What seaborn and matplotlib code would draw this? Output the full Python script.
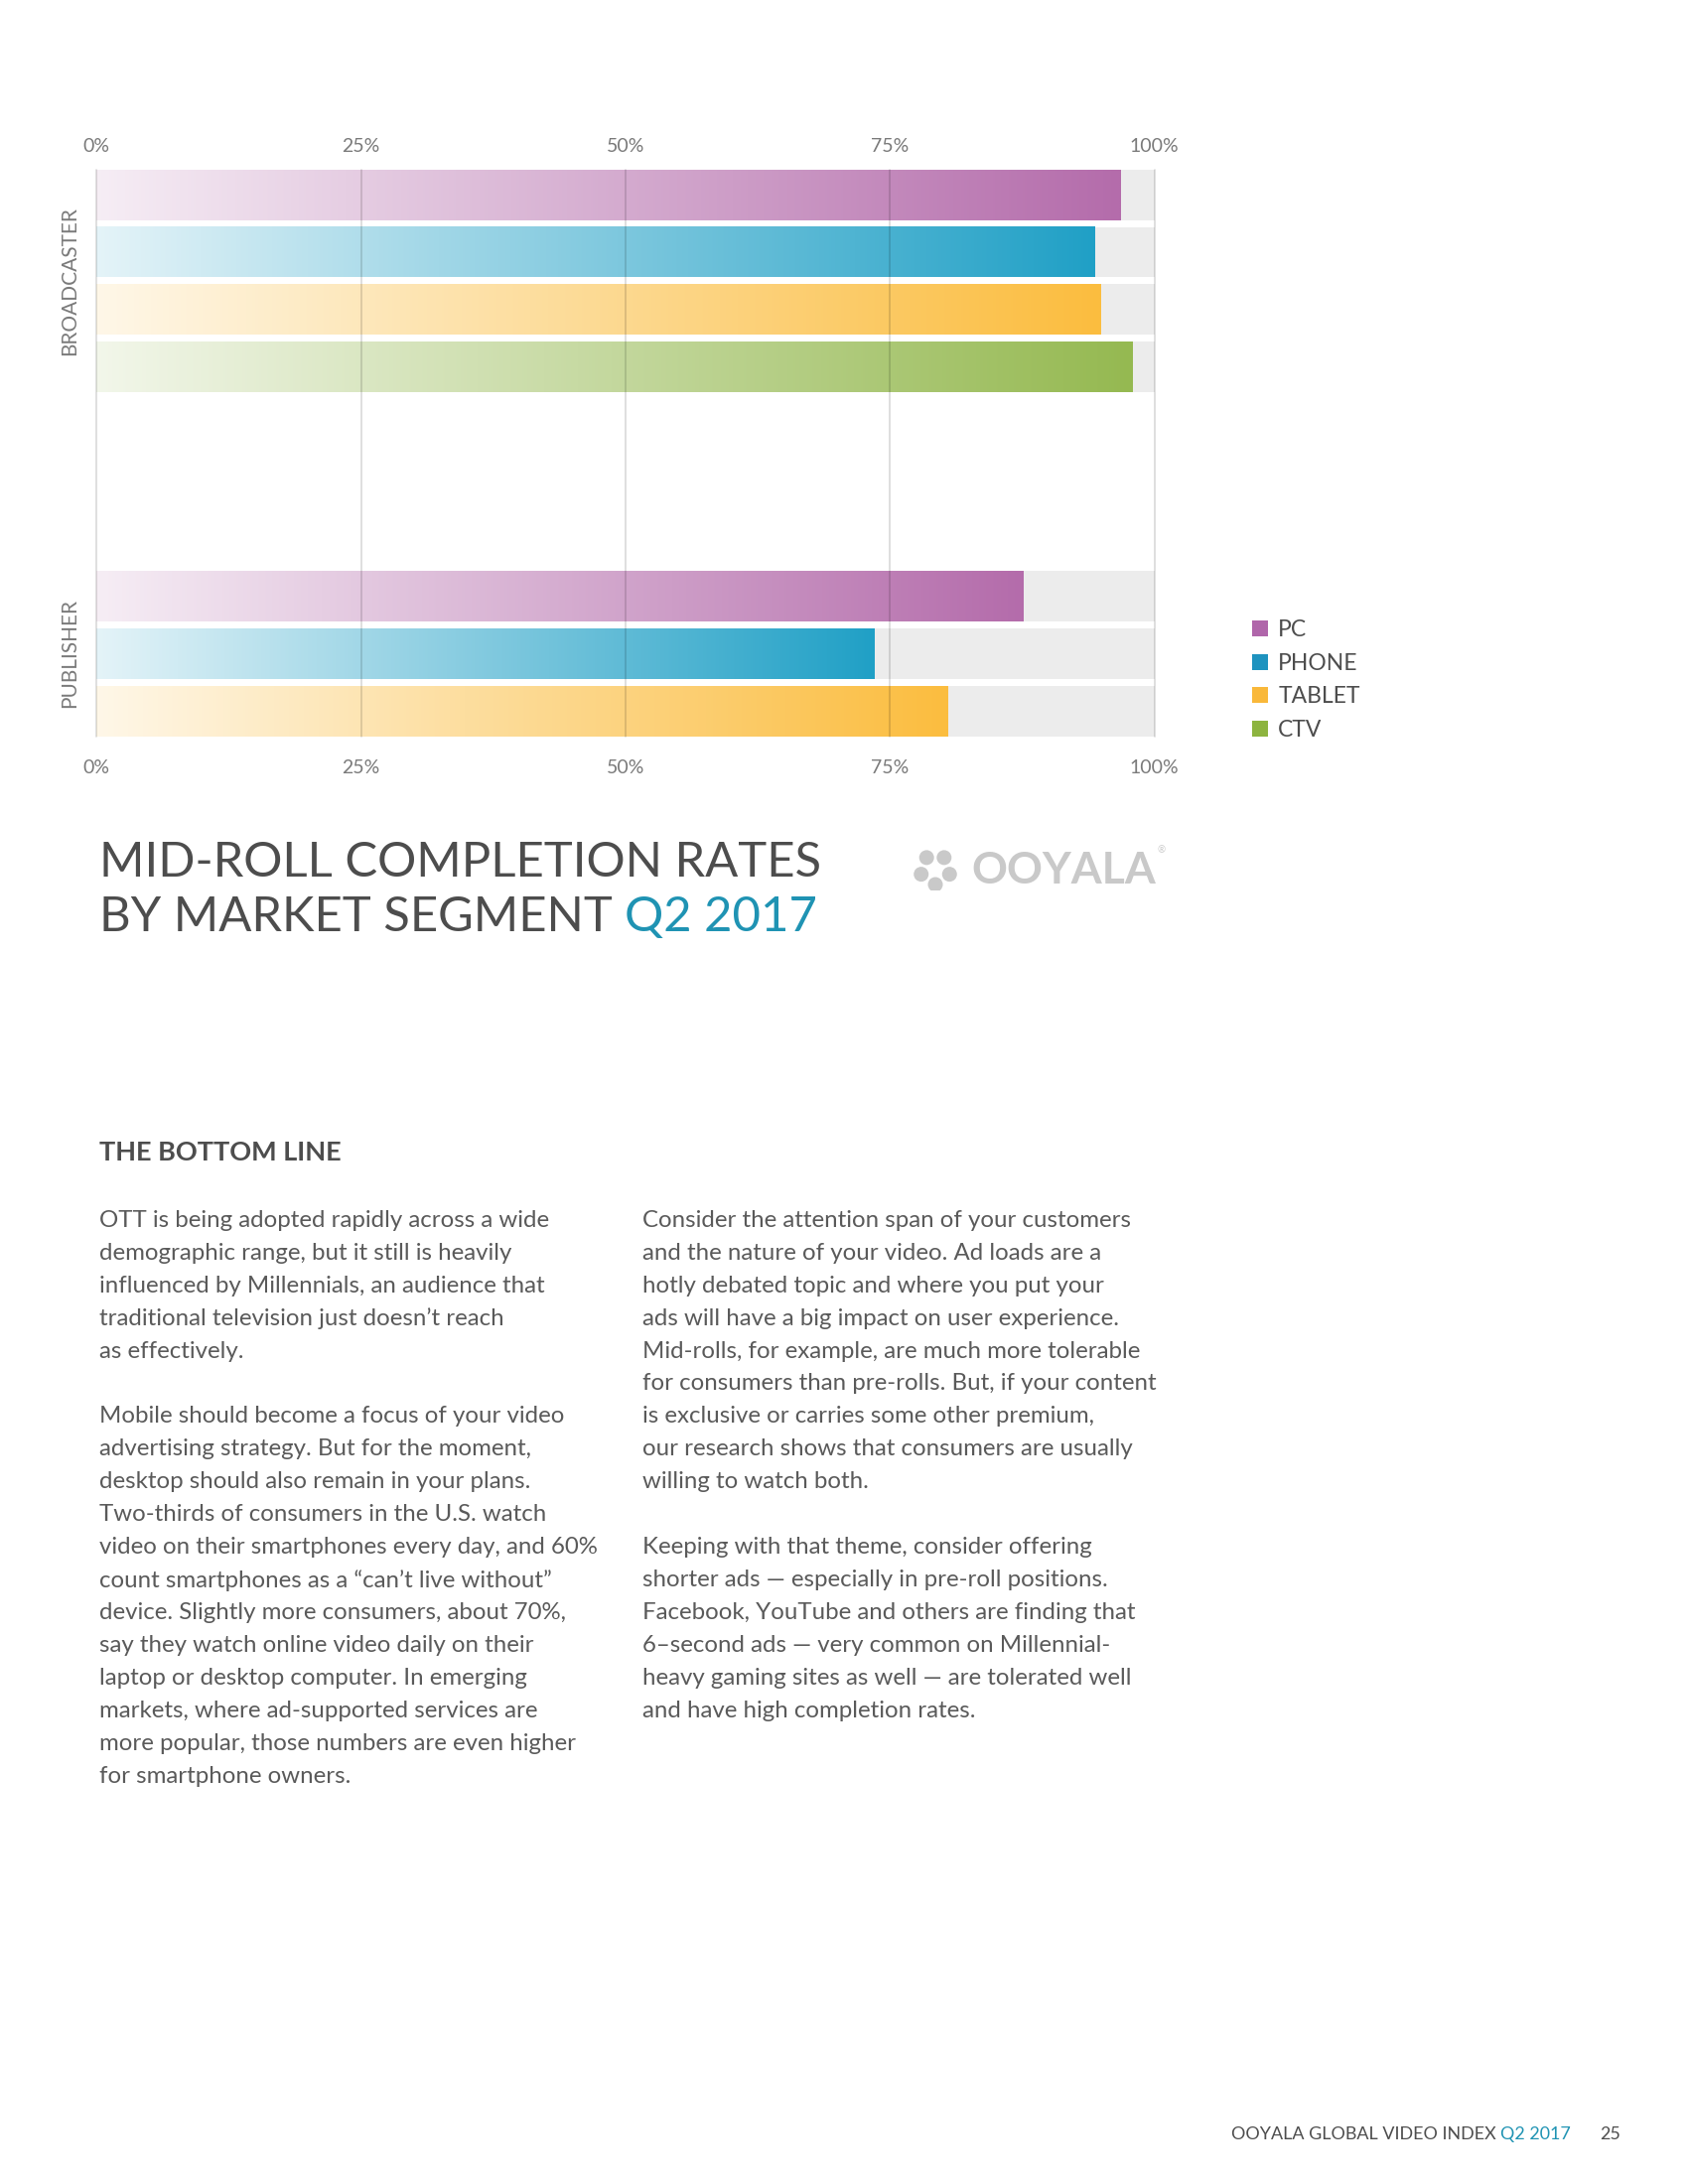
import numpy as np
import pandas as pd
import matplotlib
matplotlib.use("Agg")
import matplotlib.pyplot as plt
import seaborn as sns
from matplotlib.colors import to_rgb
from matplotlib.patches import Patch, Circle
from matplotlib import transforms

# ---------------- data ----------------
segments = ["BROADCASTER", "PUBLISHER"]
devices = ["PC", "PHONE", "TABLET", "CTV"]
broadcaster_values = [96.8, 94.4, 94.9, 97.9]      # PC, PHONE, TABLET, CTV
publisher_values = [87.6, 73.5, 80.5]              # PC, PHONE, TABLET
tick_values = [0, 25, 50, 75, 100]
tick_labels = ["0%", "25%", "50%", "75%", "100%"]
device_colors = ["#b46cab", "#20a0c6", "#fbbd3f", "#95b951"]
legend_colors = ["#b066aa", "#1e93bf", "#f9b83a", "#8db43f"]

title_line1 = "MID-ROLL COMPLETION RATES"
title_line2 = "BY MARKET SEGMENT "
title_accent = "Q2 2017"
section_title = "THE BOTTOM LINE"
left_column = [
    "OTT is being adopted rapidly across a wide",
    "demographic range, but it still is heavily",
    "influenced by Millennials, an audience that",
    "traditional television just doesn\u2019t reach",
    "as effectively.",
    "",
    "Mobile should become a focus of your video",
    "advertising strategy. But for the moment,",
    "desktop should also remain in your plans.",
    "Two-thirds of consumers in the U.S. watch",
    "video on their smartphones every day, and 60%",
    "count smartphones as a \u201ccan\u2019t live without\u201d",
    "device. Slightly more consumers, about 70%,",
    "say they watch online video daily on their",
    "laptop or desktop computer. In emerging",
    "markets, where ad-supported services are",
    "more popular, those numbers are even higher",
    "for smartphone owners.",
]
right_column = [
    "Consider the attention span of your customers",
    "and the nature of your video. Ad loads are a",
    "hotly debated topic and where you put your",
    "ads will have a big impact on user experience.",
    "Mid-rolls, for example, are much more tolerable",
    "for consumers than pre-rolls. But, if your content",
    "is exclusive or carries some other premium,",
    "our research shows that consumers are usually",
    "willing to watch both.",
    "",
    "Keeping with that theme, consider offering",
    "shorter ads \u2014 especially in pre-roll positions.",
    "Facebook, YouTube and others are finding that",
    "6\u2013second ads \u2014 very common on Millennial-",
    "heavy gaming sites as well \u2014 are tolerated well",
    "and have high completion rates.",
]
footer_text = "OOYALA GLOBAL VIDEO INDEX "
footer_accent = "Q2 2017"
page_number = "25"

# ---------------- table ----------------
rows = []
group_offset = {"BROADCASTER": 0, "PUBLISHER": 7}
for seg, vals in zip(segments, [broadcaster_values, publisher_values]):
    for i, v in enumerate(vals):
        rows.append({"segment": seg, "device": devices[i], "value": v,
                     "full": 100.0, "pos": group_offset[seg] + i})
df = pd.DataFrame(rows)

# ---------------- style ----------------
sns.set_theme(style="white")
FONT = ["Lato", "DejaVu Sans"]
plt.rcParams["font.family"] = FONT
TXT = "#4d4d4d"
BODY = "#5a5a5a"
ACCENT = "#1f93b3"

W, H = 1700, 2200
fig = plt.figure(figsize=(17, 22), dpi=100)
fig.patch.set_facecolor("white")

def fx(px):
    return px / W

def fy(py):
    return 1 - py / H

ax_left, ax_right, ax_top, ax_bot = 97.2, 1162.6, 170.8, 741.7
ax = fig.add_axes([fx(ax_left), fy(ax_bot), (ax_right - ax_left) / W, (ax_bot - ax_top) / H])

# grey track behind each bar
sns.barplot(data=df, x="full", y="pos", orient="h", native_scale=True, width=0.88,
            color="#ececec", saturation=1, errorbar=None, ax=ax, zorder=1)
n_bg = len(ax.patches)
sns.barplot(data=df, x="value", y="pos", hue="device", hue_order=devices,
            palette=dict(zip(devices, device_colors)), orient="h", native_scale=True,
            width=0.88, dodge=False, saturation=1, errorbar=None, legend=False, ax=ax, zorder=2)

for p in ax.patches[:n_bg]:
    p.set_edgecolor("none")

# replace coloured bars by a left-to-right gradient
for p in list(ax.patches[n_bg:]):
    x0, y0, w, h = p.get_x(), p.get_y(), p.get_width(), p.get_height()
    if not np.isfinite(w) or w <= 0:
        continue
    c = np.array(to_rgb(p.get_facecolor()))
    t = np.linspace(0, 1, 256)[:, None]
    start = 0.12 * c + 0.88 * np.ones(3)
    grad = start[None, :] * (1 - t) + c[None, :] * t
    img = grad[None, :, :]
    ax.imshow(img, extent=[x0, x0 + w, y0, y0 + h], aspect="auto",
              interpolation="bilinear", zorder=2.5, origin="upper")
    p.set_facecolor("none")
    p.set_edgecolor("none")

ax.set_xlim(0, 100)
ax.set_ylim(9.44, -0.44)
ax.set_aspect("auto")

for v in tick_values:
    ax.axvline(v, color="black", alpha=0.15, lw=1.2, zorder=4, clip_on=False)

for s in ax.spines.values():
    s.set_visible(False)
ax.set_yticks([])
ax.set_ylabel("")
ax.set_xlabel("")
ax.set_xticks(tick_values, tick_labels)
ax.tick_params(axis="x", length=0, pad=17, labelsize=14, labelcolor="#7a7a7a")
secax = ax.secondary_xaxis("top")
secax.set_xticks(tick_values, tick_labels)
secax.tick_params(axis="x", length=0, pad=11, labelsize=14, labelcolor="#7a7a7a")
for s in secax.spines.values():
    s.set_visible(False)

# segment labels
trans = transforms.blended_transform_factory(ax.transAxes, ax.transData)
ax.text(-0.025, 1.5, segments[0], transform=trans, rotation=90, ha="center", va="center",
        fontsize=15, color="#7a7a7a")
ax.text(-0.025, 8.0, segments[1], transform=trans, rotation=90, ha="center", va="center",
        fontsize=15, color="#7a7a7a")

# legend
handles = [Patch(facecolor=c, edgecolor="none") for c in legend_colors]
leg = fig.legend(handles, devices, loc="upper left", bbox_to_anchor=(fx(1261), fy(624)),
                 frameon=False, fontsize=16.5, handlelength=0.7, handleheight=0.7,
                 handletextpad=0.45, labelspacing=0.55, borderaxespad=0, borderpad=0)
for t in leg.get_texts():
    t.set_color(TXT)

# title
fig.canvas.draw()
renderer = fig.canvas.get_renderer()
fig.text(fx(100), fy(869), title_line1, fontsize=35.3, color=TXT,
         ha="left", va="center")
t2 = fig.text(fx(100), fy(924), title_line2, fontsize=35.3, color=TXT,
              ha="left", va="center")
bb = t2.get_window_extent(renderer=renderer)
fig.text(bb.x1 / W, fy(924), title_accent, fontsize=35.3, color=ACCENT,
         ha="left", va="center")

# logo
logo_ax = fig.add_axes([fx(915), fy(897), fx(55), 42 / H])
logo_ax.set_xlim(0, 55)
logo_ax.set_ylim(0, 42)
logo_ax.set_aspect("equal")
logo_ax.axis("off")
for ang in [90 + 72 * k + 36 for k in range(5)]:
    a = np.deg2rad(ang)
    logo_ax.add_patch(Circle((27 + 15 * np.cos(a), 21 + 15 * np.sin(a)), 7.5,
                             color="#c9c9c9", lw=0))
lg = fig.text(fx(978), fy(877), "OOYALA", fontsize=32, color="#c9c9c9", fontweight="bold",
              ha="left", va="center")
lbb = lg.get_window_extent(renderer=renderer)
fig.text(lbb.x1 / W + fx(2), fy(857), "\u00ae", fontsize=7, color="#c9c9c9",
         ha="left", va="center")

# section
fig.text(fx(100), fy(1161), section_title, fontsize=19.5, color=TXT, fontweight="bold",
         ha="left", va="center")

line0, step = 885 * W / 1224, 23.73 * W / 1224
for i, line in enumerate(left_column):
    if line:
        fig.text(fx(100), fy(line0 + i * step), line, fontsize=17.3, color=BODY,
                 ha="left", va="center")
for i, line in enumerate(right_column):
    if line:
        fig.text(fx(647), fy(line0 + i * step), line, fontsize=17.3, color=BODY,
                 ha="left", va="center")

# footer
f1 = fig.text(fx(1240), fy(2150), footer_text, fontsize=12.9, color=TXT,
              ha="left", va="center")
bb = f1.get_window_extent(renderer=renderer)
fig.text(bb.x1 / W, fy(2150), footer_accent, fontsize=12.9, color=ACCENT,
         ha="left", va="center")
fig.text(fx(1611), fy(2150), page_number, fontsize=12.9, color=TXT,
         ha="left", va="center")

fig.savefig("out.png", dpi=100, facecolor="white")
